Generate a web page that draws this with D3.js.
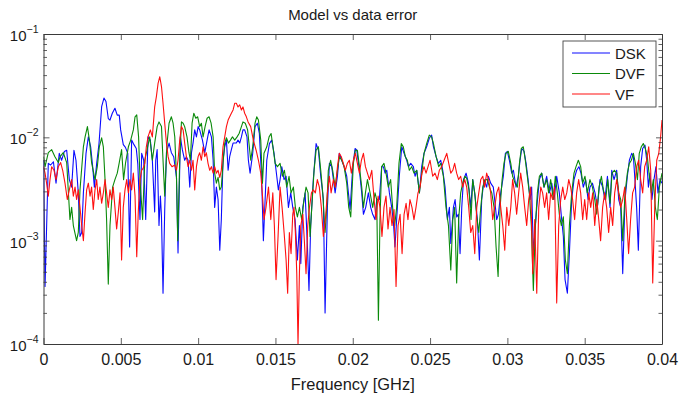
<!DOCTYPE html>
<html>
<head>
<meta charset="utf-8">
<script src="https://cdn.jsdelivr.net/npm/d3@7"></script>
<style>
  body { margin: 0; background: #fff; }
  text { font-family: "Liberation Sans", Arial, Helvetica, sans-serif; fill: #1a1a1a; }
</style>
</head>
<body>
<svg id="chart" width="681" height="398"></svg>
<script>
// ---- data -----------------------------------------------------------------
const chartTitle = "Model vs data error";
const xAxisLabel = "Frequency [GHz]";
const xTicks = [0, 0.005, 0.01, 0.015, 0.02, 0.025, 0.03, 0.035, 0.04];
const xTickLabels = ["0", "0.005", "0.01", "0.015", "0.02", "0.025", "0.03", "0.035", "0.04"];
const yDecades = [1e-4, 1e-3, 1e-2, 1e-1];
const yDecadeExponents = ["\u22124", "\u22123", "\u22122", "\u22121"];
const seriesNames = ["DSK", "DVF", "VF"];
const seriesColors = ["#0a0aff", "#0a8a0a", "#ff1010"];

// [frequency (GHz), relative error]
const dskPoints = [
[0.00000,0.0060],[0.00010,0.00036],[0.00031,0.0056],[0.00046,0.0054],[0.00064,0.0058],[0.00081,0.0036],
[0.00102,0.0070],[0.00117,0.0060],[0.00135,0.0073],[0.00150,0.0075],[0.00167,0.0039],[0.00182,0.0033],
[0.00197,0.0075],[0.00210,0.0060],[0.00225,0.0029],[0.00236,0.0011],[0.00247,0.0012],[0.00258,0.0029],
[0.00275,0.0070],[0.00290,0.0101],[0.00305,0.0081],[0.00318,0.0052],[0.00329,0.0033],[0.00344,0.0056],
[0.00359,0.0087],[0.00376,0.0198],[0.00391,0.0240],[0.00404,0.0222],[0.00419,0.0152],[0.00430,0.0147],
[0.00445,0.0171],[0.00462,0.0191],[0.00477,0.0164],[0.00490,0.0164],[0.00499,0.0118],[0.00516,0.0085],
[0.00530,0.0080],[0.00545,0.0070],[0.00557,0.00087],[0.00570,0.0094],[0.00585,0.0085],[0.00600,0.0078],
[0.00610,0.0055],[0.00624,0.0016],[0.00635,0.0070],[0.00648,0.0060],[0.00661,0.0016],[0.00676,0.0101],
[0.00691,0.0094],[0.00704,0.0060],[0.00719,0.0019],[0.00726,0.0060],[0.00735,0.0076],[0.00747,0.0014],
[0.00756,0.0027],[0.00763,0.0017],[0.00773,0.00031],[0.00784,0.0020],[0.00795,0.0071],[0.00812,0.0088],
[0.00827,0.0071],[0.00842,0.0065],[0.00860,0.0041],[0.00870,0.00076],[0.00885,0.0101],[0.00898,0.0076],
[0.00913,0.0060],[0.00924,0.0065],[0.00935,0.0060],[0.00946,0.0033],[0.00957,0.0071],[0.00967,0.0088],
[0.00978,0.0118],[0.00989,0.0101],[0.01000,0.0127],[0.01010,0.0118],[0.01028,0.0094],[0.01043,0.0071],
[0.01058,0.0094],[0.01071,0.0118],[0.01086,0.0101],[0.01097,0.0060],[0.01107,0.0021],[0.01118,0.0033],
[0.01129,0.0025],[0.01140,0.00081],[0.01150,0.0016],[0.01161,0.0060],[0.01172,0.0081],[0.01183,0.0094],
[0.01194,0.0048],[0.01204,0.0065],[0.01215,0.0076],[0.01226,0.0088],[0.01247,0.0088],[0.01258,0.0094],
[0.01269,0.0088],[0.01280,0.0101],[0.01290,0.0118],[0.01301,0.0118],[0.01316,0.0101],[0.01325,0.0060],
[0.01336,0.0045],[0.01353,0.0070],[0.01368,0.0127],[0.01383,0.0137],[0.01396,0.0109],[0.01411,0.0039],
[0.01422,0.0010],[0.01444,0.0060],[0.01461,0.0087],[0.01476,0.0094],[0.01491,0.0070],[0.01504,0.0048],
[0.01519,0.0031],[0.01530,0.0039],[0.01541,0.0052],[0.01556,0.0039],[0.01569,0.0042],[0.01584,0.0021],
[0.01599,0.0029],[0.01612,0.0021],[0.01627,0.0016],[0.01642,0.00065],[0.01655,0.0014],[0.01664,0.00060],
[0.01677,0.0021],[0.01692,0.0029],[0.01707,0.00087],[0.01717,0.00033],[0.01728,0.0014],[0.01745,0.0039],
[0.01763,0.0087],[0.01778,0.0075],[0.01793,0.0042],[0.01810,0.0025],[0.01821,0.00020],[0.01836,0.0021],
[0.01849,0.0056],[0.01864,0.0052],[0.01875,0.0039],[0.01886,0.0029],[0.01901,0.0042],[0.01913,0.0070],
[0.01929,0.0060],[0.01944,0.0052],[0.01961,0.0042],[0.01972,0.0029],[0.01983,0.0020],[0.02000,0.0052],
[0.02015,0.0078],[0.02026,0.0075],[0.02043,0.0048],[0.02058,0.0029],[0.02069,0.0018],[0.02084,0.0021],
[0.02101,0.0029],[0.02116,0.0021],[0.02129,0.0018],[0.02144,0.0016],[0.02155,0.0025],[0.02172,0.0025],
[0.02187,0.0052],[0.02198,0.0052],[0.02209,0.0045],[0.02220,0.0048],[0.02237,0.0029],[0.02252,0.0021],
[0.02263,0.0015],[0.02273,0.00087],[0.02284,0.0016],[0.02301,0.0042],[0.02317,0.0081],[0.02332,0.0070],
[0.02349,0.0060],[0.02360,0.0052],[0.02375,0.0056],[0.02392,0.0052],[0.02403,0.0042],[0.02414,0.0048],
[0.02431,0.0029],[0.02446,0.0052],[0.02461,0.0070],[0.02478,0.0081],[0.02495,0.0098],[0.02510,0.0105],
[0.02522,0.0081],[0.02539,0.0065],[0.02554,0.0056],[0.02569,0.0060],[0.02582,0.0048],[0.02597,0.0033],
[0.02612,0.0016],[0.02625,0.0021],[0.02634,0.00094],[0.02651,0.0021],[0.02662,0.0025],[0.02672,0.0017],
[0.02683,0.0018],[0.02694,0.00075],[0.02705,0.0021],[0.02716,0.0039],[0.02733,0.0045],[0.02748,0.0036],
[0.02763,0.0021],[0.02776,0.0039],[0.02791,0.0027],[0.02806,0.0016],[0.02819,0.00065],[0.02834,0.0025],
[0.02849,0.0039],[0.02866,0.0033],[0.02877,0.0042],[0.02892,0.0036],[0.02909,0.0033],[0.02920,0.0023],
[0.02931,0.0016],[0.02942,0.0018],[0.02957,0.0029],[0.02974,0.0042],[0.02987,0.0070],[0.03000,0.0073],
[0.03013,0.0060],[0.03028,0.0045],[0.03039,0.0048],[0.03056,0.0033],[0.03071,0.0042],[0.03082,0.0060],
[0.03093,0.0078],[0.03108,0.0073],[0.03121,0.0056],[0.03134,0.0039],[0.03147,0.0025],[0.03157,0.0033],
[0.03168,0.00075],[0.03190,0.0021],[0.03207,0.0039],[0.03222,0.0045],[0.03237,0.0033],[0.03254,0.0042],
[0.03272,0.0029],[0.03287,0.0036],[0.03302,0.0025],[0.03319,0.0042],[0.03336,0.0029],[0.03351,0.0016],
[0.03362,0.0011],[0.03373,0.00042],[0.03388,0.00031],[0.03401,0.00075],[0.03416,0.0025],[0.03431,0.0039],
[0.03448,0.0048],[0.03463,0.0052],[0.03476,0.0045],[0.03491,0.0033],[0.03506,0.0039],[0.03522,0.0025],
[0.03534,0.0033],[0.03550,0.0036],[0.03567,0.0029],[0.03582,0.0021],[0.03599,0.0039],[0.03616,0.0033],
[0.03631,0.0025],[0.03647,0.0042],[0.03664,0.0021],[0.03675,0.0048],[0.03690,0.0039],[0.03707,0.0048],
[0.03720,0.0025],[0.03733,0.0021],[0.03746,0.00048],[0.03761,0.0025],[0.03776,0.0042],[0.03789,0.0060],
[0.03804,0.0070],[0.03815,0.0065],[0.03825,0.0039],[0.03836,0.0021],[0.03847,0.00081],[0.03862,0.0052],
[0.03875,0.0078],[0.03890,0.0084],[0.03901,0.0060],[0.03912,0.0033],[0.03922,0.0045],[0.03935,0.0025],
[0.03948,0.0039],[0.03961,0.0052],[0.03974,0.0029],[0.03987,0.0039],[0.04000,0.0036]
];

const dvfPoints = [
[0.00000,0.0065],[0.00010,0.0052],[0.00031,0.0071],[0.00053,0.0076],[0.00074,0.0065],[0.00096,0.0057],
[0.00107,0.0065],[0.00128,0.0071],[0.00150,0.0057],[0.00171,0.0016],[0.00182,0.0021],[0.00193,0.0014],
[0.00214,0.0010],[0.00225,0.0012],[0.00236,0.0031],[0.00258,0.0081],[0.00269,0.0101],[0.00284,0.0127],
[0.00297,0.0094],[0.00311,0.0057],[0.00333,0.0039],[0.00348,0.0052],[0.00361,0.0081],[0.00376,0.0099],
[0.00387,0.0081],[0.00398,0.0039],[0.00408,0.0016],[0.00419,0.00038],[0.00430,0.0014],[0.00447,0.0033],
[0.00462,0.0039],[0.00477,0.0045],[0.00490,0.0057],[0.00505,0.0076],[0.00518,0.0039],[0.00531,0.0057],
[0.00549,0.0081],[0.00564,0.0094],[0.00581,0.0118],[0.00592,0.0158],[0.00603,0.0165],[0.00615,0.0101],
[0.00624,0.0039],[0.00641,0.0016],[0.00655,0.0060],[0.00670,0.0076],[0.00687,0.0101],[0.00704,0.0060],
[0.00719,0.0088],[0.00735,0.0127],[0.00747,0.0141],[0.00763,0.0127],[0.00773,0.0060],[0.00784,0.0027],
[0.00799,0.0088],[0.00812,0.0137],[0.00827,0.0158],[0.00838,0.0137],[0.00849,0.0101],[0.00860,0.0041],
[0.00868,0.0010],[0.00881,0.0060],[0.00892,0.0141],[0.00903,0.0137],[0.00913,0.0127],[0.00928,0.0101],
[0.00941,0.0071],[0.00950,0.0060],[0.00961,0.0137],[0.00972,0.0171],[0.00985,0.0153],[0.00997,0.0158],
[0.01010,0.0127],[0.01021,0.0137],[0.01032,0.0101],[0.01045,0.0127],[0.01058,0.0153],[0.01071,0.0158],
[0.01084,0.0137],[0.01097,0.0101],[0.01107,0.0045],[0.01118,0.0036],[0.01129,0.0041],[0.01140,0.0031],
[0.01150,0.0033],[0.01161,0.0056],[0.01172,0.0088],[0.01183,0.0099],[0.01196,0.0088],[0.01209,0.0094],
[0.01222,0.0101],[0.01237,0.0094],[0.01252,0.0101],[0.01265,0.0109],[0.01280,0.0127],[0.01290,0.0141],
[0.01305,0.0137],[0.01320,0.0118],[0.01340,0.0060],[0.01353,0.0081],[0.01368,0.0137],[0.01379,0.0158],
[0.01390,0.0147],[0.01405,0.0094],[0.01416,0.0036],[0.01426,0.0070],[0.01444,0.0081],[0.01459,0.0101],
[0.01472,0.0109],[0.01487,0.0075],[0.01498,0.0056],[0.01513,0.0052],[0.01530,0.0056],[0.01545,0.0042],
[0.01558,0.0048],[0.01573,0.0033],[0.01588,0.0042],[0.01601,0.0029],[0.01616,0.0033],[0.01629,0.0021],
[0.01642,0.0017],[0.01655,0.0021],[0.01670,0.0016],[0.01685,0.0025],[0.01698,0.0033],[0.01711,0.0029],
[0.01724,0.0011],[0.01735,0.0021],[0.01750,0.0048],[0.01763,0.0075],[0.01778,0.0081],[0.01793,0.0048],
[0.01806,0.0029],[0.01821,0.0012],[0.01832,0.0021],[0.01842,0.0048],[0.01857,0.0060],[0.01870,0.0048],
[0.01886,0.0033],[0.01901,0.0048],[0.01913,0.0065],[0.01929,0.0060],[0.01944,0.0052],[0.01961,0.0036],
[0.01974,0.0021],[0.01987,0.0017],[0.02004,0.0056],[0.02017,0.0075],[0.02030,0.0075],[0.02043,0.0052],
[0.02058,0.0033],[0.02069,0.0021],[0.02082,0.0029],[0.02095,0.0039],[0.02112,0.0029],[0.02129,0.0021],
[0.02144,0.0029],[0.02155,0.0025],[0.02166,0.00017],[0.02176,0.0016],[0.02187,0.0052],[0.02202,0.0056],
[0.02215,0.0045],[0.02230,0.0033],[0.02245,0.0039],[0.02258,0.0021],[0.02271,0.0014],[0.02284,0.0021],
[0.02299,0.0056],[0.02314,0.0087],[0.02327,0.0081],[0.02340,0.0065],[0.02353,0.0060],[0.02366,0.0048],
[0.02381,0.0052],[0.02396,0.0045],[0.02414,0.0048],[0.02431,0.0029],[0.02444,0.0042],[0.02461,0.0070],
[0.02478,0.0087],[0.02495,0.0105],[0.02510,0.0101],[0.02522,0.0087],[0.02539,0.0065],[0.02556,0.0052],
[0.02569,0.0056],[0.02586,0.0042],[0.02603,0.0021],[0.02619,0.0014],[0.02634,0.00052],[0.02647,0.0016],
[0.02659,0.0021],[0.02672,0.00039],[0.02685,0.0016],[0.02698,0.0029],[0.02711,0.0036],[0.02726,0.0042],
[0.02737,0.0040],[0.02752,0.0031],[0.02765,0.0016],[0.02776,0.0039],[0.02789,0.0029],[0.02802,0.0017],
[0.02815,0.0012],[0.02828,0.0021],[0.02841,0.0033],[0.02856,0.0039],[0.02871,0.0039],[0.02884,0.0033],
[0.02899,0.0029],[0.02914,0.0021],[0.02927,0.00087],[0.02940,0.00045],[0.02953,0.0021],[0.02966,0.0039],
[0.02978,0.0056],[0.02991,0.0070],[0.03006,0.0073],[0.03022,0.0056],[0.03034,0.0042],[0.03050,0.0036],
[0.03065,0.0033],[0.03078,0.0056],[0.03090,0.0078],[0.03103,0.0081],[0.03116,0.0060],[0.03129,0.0042],
[0.03142,0.0029],[0.03155,0.0014],[0.03168,0.00033],[0.03181,0.0014],[0.03194,0.0029],[0.03207,0.0042],
[0.03222,0.0045],[0.03237,0.0033],[0.03254,0.0039],[0.03267,0.0029],[0.03280,0.0039],[0.03297,0.0025],
[0.03310,0.0042],[0.03323,0.0029],[0.03336,0.0018],[0.03349,0.0014],[0.03362,0.0017],[0.03375,0.00065],
[0.03388,0.00048],[0.03401,0.0014],[0.03416,0.0029],[0.03431,0.0045],[0.03444,0.0052],[0.03459,0.0060],
[0.03474,0.0052],[0.03487,0.0036],[0.03502,0.0042],[0.03517,0.0029],[0.03534,0.0039],[0.03550,0.0033],
[0.03565,0.0025],[0.03578,0.0018],[0.03593,0.0033],[0.03608,0.0042],[0.03621,0.0031],[0.03636,0.0025],
[0.03649,0.0039],[0.03664,0.0023],[0.03677,0.0045],[0.03692,0.0048],[0.03707,0.0045],[0.03720,0.0029],
[0.03733,0.0025],[0.03746,0.0010],[0.03761,0.0029],[0.03776,0.0045],[0.03789,0.0056],[0.03802,0.0060],
[0.03815,0.0070],[0.03828,0.0056],[0.03841,0.0039],[0.03853,0.0070],[0.03866,0.0081],[0.03879,0.0087],
[0.03892,0.0078],[0.03905,0.0065],[0.03918,0.0042],[0.03931,0.0029],[0.03944,0.0039],[0.03957,0.0021],
[0.03970,0.0016],[0.03983,0.0033],[0.04000,0.0045]
];

const vfPoints = [
[0.00000,0.0052],[0.00010,0.0045],[0.00020,0.0036],[0.00031,0.0027],[0.00042,0.0039],[0.00053,0.0052],
[0.00068,0.0048],[0.00081,0.0039],[0.00096,0.0052],[0.00111,0.0057],[0.00124,0.0048],[0.00139,0.0036],
[0.00154,0.0025],[0.00167,0.0031],[0.00182,0.0039],[0.00193,0.0027],[0.00204,0.0033],[0.00214,0.0025],
[0.00225,0.0031],[0.00236,0.0021],[0.00247,0.0014],[0.00258,0.0010],[0.00269,0.0019],[0.00279,0.0031],
[0.00290,0.0036],[0.00301,0.0027],[0.00311,0.0033],[0.00322,0.0020],[0.00333,0.0031],[0.00344,0.0039],
[0.00354,0.0025],[0.00365,0.0033],[0.00376,0.0023],[0.00387,0.0029],[0.00398,0.0039],[0.00408,0.0029],
[0.00419,0.0021],[0.00430,0.0031],[0.00441,0.0025],[0.00451,0.0033],[0.00462,0.0021],[0.00473,0.0013],
[0.00484,0.0019],[0.00495,0.0029],[0.00505,0.00065],[0.00516,0.0021],[0.00527,0.0031],[0.00538,0.0039],
[0.00549,0.0029],[0.00559,0.0039],[0.00570,0.0031],[0.00581,0.0045],[0.00592,0.0027],[0.00603,0.00070],
[0.00613,0.0019],[0.00624,0.0039],[0.00635,0.0048],[0.00644,0.0050],[0.00655,0.0056],[0.00665,0.0081],
[0.00676,0.0101],[0.00691,0.0118],[0.00704,0.0101],[0.00719,0.0197],[0.00730,0.0248],[0.00741,0.0333],
[0.00752,0.0386],[0.00763,0.0310],[0.00773,0.0214],[0.00784,0.0137],[0.00795,0.0088],[0.00806,0.0065],
[0.00816,0.0056],[0.00831,0.0052],[0.00849,0.0054],[0.00860,0.0048],[0.00870,0.0060],[0.00881,0.0094],
[0.00892,0.0127],[0.00903,0.0118],[0.00913,0.0088],[0.00924,0.0065],[0.00935,0.0052],[0.00946,0.0060],
[0.00957,0.0048],[0.00967,0.0060],[0.00978,0.0031],[0.00989,0.0052],[0.01000,0.0065],[0.01010,0.0071],
[0.01021,0.0060],[0.01032,0.0081],[0.01043,0.0065],[0.01053,0.0071],[0.01064,0.0056],[0.01075,0.0048],
[0.01086,0.0052],[0.01097,0.0045],[0.01107,0.0052],[0.01118,0.0045],[0.01129,0.0048],[0.01140,0.0041],
[0.01150,0.0048],[0.01161,0.0081],[0.01172,0.0101],[0.01183,0.0127],[0.01194,0.0147],[0.01204,0.0158],
[0.01215,0.0171],[0.01226,0.0184],[0.01237,0.0214],[0.01247,0.0214],[0.01258,0.0197],[0.01269,0.0206],
[0.01280,0.0184],[0.01290,0.0197],[0.01301,0.0171],[0.01312,0.0158],[0.01323,0.0141],[0.01340,0.0127],
[0.01357,0.0094],[0.01375,0.0075],[0.01390,0.0060],[0.01405,0.0045],[0.01418,0.0025],[0.01426,0.0016],
[0.01439,0.0021],[0.01455,0.0033],[0.01470,0.0016],[0.01483,0.0029],[0.01493,0.0014],[0.01504,0.00042],
[0.01517,0.0011],[0.01530,0.0033],[0.01543,0.0021],[0.01556,0.0012],[0.01569,0.00065],[0.01579,0.00031],
[0.01590,0.0012],[0.01601,0.00075],[0.01612,0.0018],[0.01620,0.0021],[0.01629,0.0012],[0.01638,0.00048],
[0.01646,0.00010],[0.01655,0.00048],[0.01664,0.0014],[0.01677,0.0018],[0.01687,0.0010],[0.01698,0.00048],
[0.01709,0.0014],[0.01720,0.0021],[0.01733,0.0029],[0.01745,0.0031],[0.01758,0.0029],[0.01771,0.0039],
[0.01784,0.0033],[0.01797,0.0021],[0.01810,0.0011],[0.01823,0.0016],[0.01836,0.0029],[0.01849,0.0042],
[0.01860,0.0029],[0.01875,0.0039],[0.01888,0.0033],[0.01901,0.0052],[0.01913,0.0070],[0.01926,0.0065],
[0.01939,0.0056],[0.01952,0.0048],[0.01965,0.0056],[0.01978,0.0060],[0.01991,0.0045],[0.02004,0.0060],
[0.02017,0.0070],[0.02030,0.0056],[0.02043,0.0045],[0.02056,0.0060],[0.02069,0.0070],[0.02082,0.0052],
[0.02095,0.0045],[0.02108,0.0039],[0.02123,0.0048],[0.02138,0.0025],[0.02151,0.0016],[0.02164,0.0027],
[0.02176,0.0021],[0.02189,0.0011],[0.02202,0.0021],[0.02215,0.0027],[0.02228,0.0013],[0.02241,0.0021],
[0.02254,0.0014],[0.02267,0.0020],[0.02280,0.00036],[0.02293,0.0014],[0.02306,0.0018],[0.02319,0.00075],
[0.02332,0.0018],[0.02345,0.0023],[0.02357,0.0016],[0.02370,0.0025],[0.02383,0.0021],[0.02396,0.0016],
[0.02409,0.0021],[0.02422,0.0029],[0.02435,0.0033],[0.02448,0.0045],[0.02461,0.0052],[0.02474,0.0045],
[0.02487,0.0052],[0.02500,0.0060],[0.02517,0.0042],[0.02532,0.0045],[0.02547,0.0039],[0.02560,0.0048],
[0.02575,0.0052],[0.02591,0.0060],[0.02608,0.0070],[0.02621,0.0056],[0.02634,0.0045],[0.02647,0.0048],
[0.02659,0.0056],[0.02672,0.0045],[0.02685,0.0039],[0.02698,0.0042],[0.02711,0.0033],[0.02724,0.0039],
[0.02737,0.0033],[0.02750,0.0021],[0.02763,0.0012],[0.02776,0.0014],[0.02789,0.00075],[0.02802,0.0021],
[0.02815,0.0029],[0.02828,0.0039],[0.02841,0.0042],[0.02853,0.0033],[0.02866,0.0045],[0.02879,0.0039],
[0.02892,0.0029],[0.02905,0.0016],[0.02918,0.0021],[0.02931,0.0029],[0.02944,0.0033],[0.02957,0.0021],
[0.02970,0.0014],[0.02983,0.00081],[0.02996,0.0021],[0.03009,0.0014],[0.03022,0.0021],[0.03034,0.0039],
[0.03047,0.0029],[0.03060,0.0018],[0.03073,0.0029],[0.03086,0.0045],[0.03099,0.0033],[0.03112,0.0021],
[0.03125,0.0014],[0.03138,0.0025],[0.03151,0.0033],[0.03164,0.00048],[0.03177,0.0016],[0.03190,0.00031],
[0.03203,0.0021],[0.03216,0.0033],[0.03228,0.0029],[0.03241,0.0021],[0.03254,0.0029],[0.03267,0.0016],
[0.03280,0.0029],[0.03293,0.0025],[0.03306,0.0033],[0.03319,0.00025],[0.03332,0.0014],[0.03345,0.0025],
[0.03358,0.0033],[0.03371,0.0025],[0.03384,0.0029],[0.03397,0.0039],[0.03409,0.0033],[0.03422,0.0025],
[0.03435,0.0016],[0.03448,0.0029],[0.03461,0.0039],[0.03474,0.0029],[0.03487,0.0016],[0.03500,0.0025],
[0.03513,0.0016],[0.03526,0.0029],[0.03539,0.0021],[0.03552,0.0029],[0.03565,0.0014],[0.03578,0.0025],
[0.03591,0.0016],[0.03603,0.0010],[0.03616,0.0021],[0.03629,0.0029],[0.03642,0.0021],[0.03655,0.0012],
[0.03668,0.0021],[0.03681,0.0014],[0.03694,0.0029],[0.03707,0.0039],[0.03720,0.0029],[0.03733,0.0021],
[0.03746,0.0025],[0.03759,0.0033],[0.03772,0.0016],[0.03784,0.00075],[0.03797,0.0016],[0.03810,0.0029],
[0.03823,0.0033],[0.03836,0.0052],[0.03849,0.0060],[0.03862,0.0039],[0.03875,0.0029],[0.03888,0.0052],
[0.03901,0.0060],[0.03914,0.0081],[0.03927,0.0048],[0.03940,0.00039],[0.03953,0.0021],[0.03966,0.0060],
[0.03979,0.0070],[0.03991,0.0101],[0.04000,0.0147]
];

const seriesData = [dskPoints, dvfPoints, vfPoints];

// ---- layout ---------------------------------------------------------------
const plot = { left: 43.5, right: 662, top: 34, bottom: 344 };
const axisColor = "#3a3a3a";

const svg = d3.select("#chart");

const x = d3.scaleLinear()
  .domain([xTicks[0], xTicks[xTicks.length - 1]])
  .range([plot.left, plot.right]);
const y = d3.scaleLog()
  .domain([yDecades[0], yDecades[yDecades.length - 1]])
  .range([plot.bottom, plot.top]);

// minor log ticks (2..9 within each decade)
const yMinor = [];
yDecades.slice(0, -1).forEach(d => { for (let m = 2; m <= 9; m++) yMinor.push(d * m); });

// ---- series ---------------------------------------------------------------
svg.append("clipPath").attr("id", "plotClip")
  .append("rect")
  .attr("x", plot.left).attr("y", plot.top)
  .attr("width", plot.right - plot.left).attr("height", plot.bottom - plot.top);

const line = d3.line()
  .x(d => x(d[0]))
  .y(d => y(d[1]));

svg.append("g").attr("clip-path", "url(#plotClip)")
  .selectAll("path")
  .data(seriesData)
  .join("path")
  .attr("d", line)
  .attr("fill", "none")
  .attr("stroke", (d, i) => seriesColors[i])
  .attr("stroke-width", 1.1)
  .attr("stroke-linejoin", "round");

// ---- axes (ticks point inward on all four sides) --------------------------
function styleAxis(g) {
  g.selectAll("path.domain").attr("stroke", axisColor).attr("stroke-width", 1);
  g.selectAll(".tick line").attr("stroke", axisColor).attr("stroke-width", 0.8);
  g.selectAll(".tick text")
    .attr("font-family", '"Liberation Sans", Arial, sans-serif')
    .attr("font-size", 16).attr("fill", "#1a1a1a");
}

svg.append("g")
  .attr("transform", `translate(0,${plot.bottom})`)
  .call(d3.axisBottom(x).tickValues(xTicks).tickSizeInner(-6).tickSizeOuter(0)
    .tickPadding(9.5).tickFormat((d, i) => xTickLabels[i]))
  .call(styleAxis);

svg.append("g")
  .attr("transform", `translate(0,${plot.top})`)
  .call(d3.axisTop(x).tickValues(xTicks).tickSizeInner(-6).tickSizeOuter(0).tickFormat(""))
  .call(styleAxis);

svg.append("g")
  .attr("transform", `translate(${plot.left},0)`)
  .call(d3.axisLeft(y).tickValues(yDecades).tickSizeInner(-6).tickSizeOuter(0).tickFormat(""))
  .call(styleAxis);
svg.append("g")
  .attr("transform", `translate(${plot.left},0)`)
  .call(d3.axisLeft(y).tickValues(yMinor).tickSizeInner(-3.5).tickSizeOuter(0).tickFormat(""))
  .call(styleAxis)
  .call(g => g.select("path.domain").remove());

svg.append("g")
  .attr("transform", `translate(${plot.right},0)`)
  .call(d3.axisRight(y).tickValues(yDecades).tickSizeInner(-6).tickSizeOuter(0).tickFormat(""))
  .call(styleAxis);
svg.append("g")
  .attr("transform", `translate(${plot.right},0)`)
  .call(d3.axisRight(y).tickValues(yMinor).tickSizeInner(-3.5).tickSizeOuter(0).tickFormat(""))
  .call(styleAxis)
  .call(g => g.select("path.domain").remove());

// power-of-ten labels on the y axis
const yLabels = svg.append("g");
yDecades.forEach((d, i) => {
  const t = yLabels.append("text")
    .attr("x", plot.left - 5)
    .attr("y", y(d) + 7)
    .attr("text-anchor", "end")
    .attr("font-size", 15);
  t.append("tspan").text("10");
  t.append("tspan").attr("dy", -8).attr("font-size", 10.5).text(yDecadeExponents[i]);
});

// ---- titles ---------------------------------------------------------------
svg.append("text")
  .attr("x", (plot.left + plot.right) / 2).attr("y", 20)
  .attr("text-anchor", "middle").attr("font-size", 15)
  .text(chartTitle);

svg.append("text")
  .attr("x", (plot.left + plot.right) / 2).attr("y", 390)
  .attr("text-anchor", "middle").attr("font-size", 16.4)
  .text(xAxisLabel);

// ---- legend ---------------------------------------------------------------
const legend = svg.append("g").attr("transform", "translate(563,41)");
legend.append("rect")
  .attr("width", 93).attr("height", 66)
  .attr("fill", "#fff").attr("stroke", "#444").attr("stroke-width", 0.9);
seriesNames.forEach((name, i) => {
  const ly = 12 + i * 20.5;
  legend.append("line")
    .attr("x1", 9).attr("x2", 47).attr("y1", ly).attr("y2", ly)
    .attr("stroke", seriesColors[i]).attr("stroke-width", 1.1);
  legend.append("text")
    .attr("x", 52).attr("y", ly + 5.5)
    .attr("font-size", 15)
    .text(name);
});
</script>
</body>
</html>
